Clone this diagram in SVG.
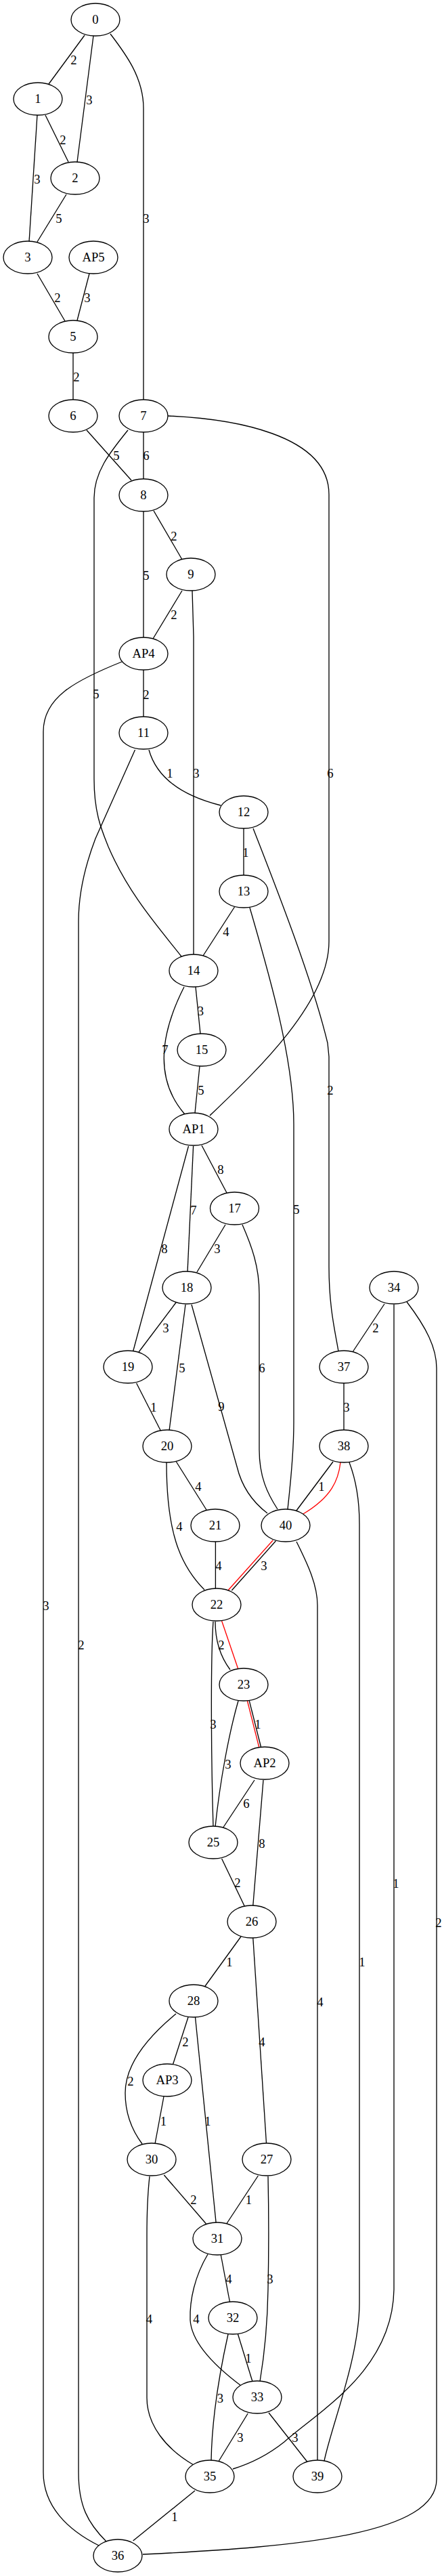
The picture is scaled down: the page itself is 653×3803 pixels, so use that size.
<svg xmlns="http://www.w3.org/2000/svg" width="653" height="3803" viewBox="0 0 653 3803">
<style>
.e{fill:none;stroke:#000;stroke-width:1.33}
.r{fill:none;stroke:#f00;stroke-width:1.33}
.n ellipse{fill:#fff;stroke:#000;stroke-width:1.33}
text{font-family:"Liberation Serif","Times New Roman",serif;font-size:18.67px;text-anchor:middle;fill:#000}
</style>
<rect width="653" height="3803" fill="#fff"/>
<g id="edges">
<path class="e" d="M125,52 L72,124"/>
<path class="e" d="M138,53 L114,239"/>
<path class="e" d="M163,50 C186,80 212,115 212,160 V590"/>
<path class="e" d="M67,170 L101,239"/>
<path class="e" d="M55,170 L43,357"/>
<path class="e" d="M98,287 L55,357"/>
<path class="e" d="M55,404 L96,474"/>
<path class="e" d="M132,404 L114,473"/>
<path class="e" d="M108,521 V590"/>
<path class="e" d="M128,635 L194,709"/>
<path class="e" d="M212,638 V707"/>
<path class="e" d="M189,635 C165,665 139,695 139,735 V1150 C139,1200 150,1225 160,1250 C190,1320 235,1370 268,1412"/>
<path class="e" d="M248,614 C340,618 486,640 486,730 V1390 C486,1480 380,1580 310,1647"/>
<path class="e" d="M227,754 L269,826"/>
<path class="e" d="M212,755 V941"/>
<path class="e" d="M269,872 L226,943"/>
<path class="e" d="M284,872 L286,940 V1410"/>
<path class="e" d="M212,989 V1058"/>
<path class="e" d="M180,977 C110,1005 64,1030 64,1080 V3650 C64,3700 100,3735 146,3758"/>
<path class="e" d="M220,1107 C232,1150 270,1175 326,1189"/>
<path class="e" d="M199.5,1107 L141,1238 C125,1280 116,1320 116,1360 V3650 C116,3700 130,3725 157,3752"/>
<path class="e" d="M360,1223 V1292"/>
<path class="e" d="M374,1223 C400,1290 460,1440 484,1540 L486,1560 V1870 C486,1930 495,1965 500,1995"/>
<path class="e" d="M346.5,1339 L300,1411"/>
<path class="e" d="M369,1340 C395,1430 434,1560 434,1660 V2100 C434,2150 428,2200 425,2228"/>
<path class="e" d="M289,1457 L296,1526"/>
<path class="e" d="M272,1457 C240,1520 225,1590 273,1645"/>
<path class="e" d="M295,1574 L288,1643"/>
<path class="e" d="M298,1691 L335,1761"/>
<path class="e" d="M285.6,1692 L277,1878"/>
<path class="e" d="M278.5,1692 L196.6,1995"/>
<path class="e" d="M333,1808 L291,1878"/>
<path class="e" d="M358,1808 C372,1840 383,1870 383,1910 V2140 C383,2180 395,2205 410,2228"/>
<path class="e" d="M260,1923 L205,1996"/>
<path class="e" d="M274,1926 L250,2112"/>
<path class="e" d="M283,1926 L350,2165 C356,2190 370,2215 395,2234"/>
<path class="e" d="M201.6,2042 L237.3,2112"/>
<path class="e" d="M260.4,2158 L305,2229"/>
<path class="e" d="M246,2159 C246,2260 265,2310 302,2347"/>
<path class="e" d="M318.4,2276 V2346"/>
<path class="e" d="M568,1925 L521.6,1995"/>
<path class="e" d="M582,1926 V3380 C580,3500 470,3560 420,3605 C395,3625 370,3637 344,3645"/>
<path class="e" d="M601,1922 C630,1960 645,1990 645,2020 V3660 C645,3740 450,3760 211,3771"/>
<path class="e" d="M508,2042 V2111"/>
<path class="e" d="M492,2158 L438,2230"/>
<path class="r" d="M503,2159 C500,2185 490,2210 448,2235"/>
<path class="e" d="M516,2159 C526,2185 531,2215 531,2250 V3400 C531,3480 490,3580 479,3633"/>
<path class="e" d="M407.4,2275 L342.3,2348"/>
<path class="r" d="M403.2,2274 L336.8,2348"/>
<path class="e" d="M438,2276 C455,2310 469,2340 469,2370 V3633"/>
<path class="e" d="M318,2394 C318,2420 325,2445 340,2465"/>
<path class="r" d="M327.6,2393 L351.5,2463"/>
<path class="e" d="M315,2394 C311,2450 312,2600 315,2697"/>
<path class="e" d="M368.3,2511 L385.5,2579"/>
<path class="r" d="M365.4,2511 L382.6,2579"/>
<path class="e" d="M352,2511 C338,2560 325,2630 318,2697"/>
<path class="e" d="M376,2628 L329.7,2698"/>
<path class="e" d="M389,2628 L373.8,2813"/>
<path class="e" d="M327.6,2744 L361.2,2814"/>
<path class="e" d="M356,2859 L302.4,2933"/>
<path class="e" d="M373.8,2861 L393.5,3164"/>
<path class="e" d="M278,2978 L255.4,3048"/>
<path class="e" d="M260,2973 C215,3010 185,3050 185,3090 C185,3120 195,3145 210,3165"/>
<path class="e" d="M288.5,2978 L319.2,3282"/>
<path class="e" d="M242,3095 L229,3165"/>
<path class="e" d="M242.3,3211 L304.5,3283"/>
<path class="e" d="M221,3213 C218,3240 217,3270 217,3300 V3540 C217,3580 245,3615 286,3639"/>
<path class="e" d="M381.4,3212 L334.7,3283"/>
<path class="e" d="M396,3213 C397,3260 397,3330 396,3380 C395,3440 390,3480 384,3516"/>
<path class="e" d="M326.3,3329 L339.4,3398"/>
<path class="e" d="M307,3328 C288,3360 280,3395 281,3425 C283,3460 320,3495 356,3522"/>
<path class="e" d="M351.5,3446 L373,3516"/>
<path class="e" d="M337,3446 C325,3500 313,3570 312,3633"/>
<path class="e" d="M366.2,3563 L323.4,3633"/>
<path class="e" d="M397,3562 L453.6,3634"/>
<path class="e" d="M288,3677 L196.6,3751"/>
</g>
<g id="edge-labels">
<text x="109" y="95">2</text>
<text x="132" y="154">3</text>
<text x="216" y="329">3</text>
<text x="93" y="213">2</text>
<text x="55" y="271">3</text>
<text x="87" y="329">5</text>
<text x="85" y="446">2</text>
<text x="129" y="446">3</text>
<text x="113" y="563">2</text>
<text x="172" y="679">5</text>
<text x="216" y="679">6</text>
<text x="257" y="798">2</text>
<text x="216" y="856">5</text>
<text x="257" y="914">2</text>
<text x="142" y="1031">5</text>
<text x="216" y="1032">2</text>
<text x="251" y="1148">1</text>
<text x="290" y="1148">3</text>
<text x="488" y="1148">6</text>
<text x="363" y="1265">1</text>
<text x="334" y="1382">4</text>
<text x="296.5" y="1499">3</text>
<text x="244" y="1556">7</text>
<text x="297" y="1616">5</text>
<text x="488" y="1616">2</text>
<text x="326" y="1733">8</text>
<text x="286" y="1793">7</text>
<text x="438" y="1792">5</text>
<text x="243" y="1850">8</text>
<text x="321" y="1850">3</text>
<text x="245" y="1967">3</text>
<text x="555" y="1967">2</text>
<text x="269" y="2026">5</text>
<text x="387" y="2026">6</text>
<text x="227" y="2084">1</text>
<text x="327" y="2083">9</text>
<text x="512" y="2084">3</text>
<text x="293" y="2201">4</text>
<text x="475" y="2201">1</text>
<text x="265" y="2260">4</text>
<text x="323" y="2318">4</text>
<text x="390" y="2318">3</text>
<text x="68" y="2377">3</text>
<text x="120" y="2435">2</text>
<text x="327" y="2435">2</text>
<text x="315" y="2552">3</text>
<text x="381" y="2552">1</text>
<text x="337" y="2611">3</text>
<text x="364" y="2669">6</text>
<text x="387" y="2728">8</text>
<text x="351" y="2786">2</text>
<text x="585" y="2787">1</text>
<text x="648" y="2845">2</text>
<text x="339" y="2903">1</text>
<text x="535" y="2903">1</text>
<text x="473" y="2962">4</text>
<text x="387" y="3021">4</text>
<text x="274" y="3021">2</text>
<text x="193" y="3079">2</text>
<text x="241.5" y="3138">1</text>
<text x="307" y="3138">1</text>
<text x="286" y="3254">2</text>
<text x="367.5" y="3254">1</text>
<text x="338" y="3371">4</text>
<text x="399" y="3371">3</text>
<text x="220.5" y="3430">4</text>
<text x="290" y="3430">4</text>
<text x="367" y="3488">1</text>
<text x="325.5" y="3547">3</text>
<text x="355" y="3605">3</text>
<text x="436" y="3605">3</text>
<text x="258" y="3722">1</text>
</g>
<g id="node-0" class="n"><ellipse cx="141" cy="29" rx="36" ry="24"/><text x="141" y="35">0</text></g>
<g id="node-1" class="n"><ellipse cx="56" cy="146" rx="36" ry="24"/><text x="56" y="152">1</text></g>
<g id="node-2" class="n"><ellipse cx="111" cy="263" rx="36" ry="24"/><text x="111" y="269">2</text></g>
<g id="node-3" class="n"><ellipse cx="41" cy="380" rx="36" ry="24"/><text x="41" y="386">3</text></g>
<g id="node-AP5" class="n"><ellipse cx="138" cy="380" rx="36" ry="24"/><text x="138" y="386">AP5</text></g>
<g id="node-5" class="n"><ellipse cx="108" cy="497" rx="36" ry="24"/><text x="108" y="503">5</text></g>
<g id="node-6" class="n"><ellipse cx="108" cy="614" rx="36" ry="24"/><text x="108" y="620">6</text></g>
<g id="node-7" class="n"><ellipse cx="212" cy="614" rx="36" ry="24"/><text x="212" y="620">7</text></g>
<g id="node-8" class="n"><ellipse cx="212" cy="731" rx="36" ry="24"/><text x="212" y="737">8</text></g>
<g id="node-9" class="n"><ellipse cx="282" cy="848" rx="36" ry="24"/><text x="282" y="854">9</text></g>
<g id="node-AP4" class="n"><ellipse cx="212" cy="965" rx="36" ry="24"/><text x="212" y="971">AP4</text></g>
<g id="node-11" class="n"><ellipse cx="212" cy="1082" rx="36" ry="24"/><text x="212" y="1088">11</text></g>
<g id="node-12" class="n"><ellipse cx="360" cy="1199" rx="36" ry="24"/><text x="360" y="1205">12</text></g>
<g id="node-13" class="n"><ellipse cx="360" cy="1316" rx="36" ry="24"/><text x="360" y="1322">13</text></g>
<g id="node-14" class="n"><ellipse cx="286" cy="1433" rx="36" ry="24"/><text x="286" y="1439">14</text></g>
<g id="node-15" class="n"><ellipse cx="298" cy="1550" rx="36" ry="24"/><text x="298" y="1556">15</text></g>
<g id="node-AP1" class="n"><ellipse cx="286" cy="1667" rx="36" ry="24"/><text x="286" y="1673">AP1</text></g>
<g id="node-17" class="n"><ellipse cx="346.5" cy="1784" rx="36" ry="24"/><text x="346.5" y="1790">17</text></g>
<g id="node-18" class="n"><ellipse cx="276" cy="1901" rx="36" ry="24"/><text x="276" y="1907">18</text></g>
<g id="node-34" class="n"><ellipse cx="582" cy="1901" rx="36" ry="24"/><text x="582" y="1907">34</text></g>
<g id="node-19" class="n"><ellipse cx="189" cy="2018" rx="36" ry="24"/><text x="189" y="2024">19</text></g>
<g id="node-37" class="n"><ellipse cx="508" cy="2018" rx="36" ry="24"/><text x="508" y="2024">37</text></g>
<g id="node-20" class="n"><ellipse cx="247" cy="2135" rx="36" ry="24"/><text x="247" y="2141">20</text></g>
<g id="node-38" class="n"><ellipse cx="508" cy="2135" rx="36" ry="24"/><text x="508" y="2141">38</text></g>
<g id="node-21" class="n"><ellipse cx="318" cy="2252" rx="36" ry="24"/><text x="318" y="2258">21</text></g>
<g id="node-40" class="n"><ellipse cx="422" cy="2252" rx="36" ry="24"/><text x="422" y="2258">40</text></g>
<g id="node-22" class="n"><ellipse cx="320" cy="2369" rx="36" ry="24"/><text x="320" y="2375">22</text></g>
<g id="node-23" class="n"><ellipse cx="360" cy="2487" rx="36" ry="24"/><text x="360" y="2493">23</text></g>
<g id="node-AP2" class="n"><ellipse cx="391" cy="2603" rx="36" ry="24"/><text x="391" y="2609">AP2</text></g>
<g id="node-25" class="n"><ellipse cx="315" cy="2720" rx="36" ry="24"/><text x="315" y="2726">25</text></g>
<g id="node-26" class="n"><ellipse cx="372" cy="2837" rx="36" ry="24"/><text x="372" y="2843">26</text></g>
<g id="node-28" class="n"><ellipse cx="286" cy="2954" rx="36" ry="24"/><text x="286" y="2960">28</text></g>
<g id="node-AP3" class="n"><ellipse cx="247" cy="3071" rx="36" ry="24"/><text x="247" y="3077">AP3</text></g>
<g id="node-30" class="n"><ellipse cx="224" cy="3188" rx="36" ry="24"/><text x="224" y="3194">30</text></g>
<g id="node-27" class="n"><ellipse cx="394" cy="3188" rx="36" ry="24"/><text x="394" y="3194">27</text></g>
<g id="node-31" class="n"><ellipse cx="321" cy="3305" rx="36" ry="24"/><text x="321" y="3311">31</text></g>
<g id="node-32" class="n"><ellipse cx="344" cy="3422" rx="36" ry="24"/><text x="344" y="3428">32</text></g>
<g id="node-33" class="n"><ellipse cx="380" cy="3539" rx="36" ry="24"/><text x="380" y="3545">33</text></g>
<g id="node-35" class="n"><ellipse cx="310" cy="3656" rx="36" ry="24"/><text x="310" y="3662">35</text></g>
<g id="node-39" class="n"><ellipse cx="469" cy="3656" rx="36" ry="24"/><text x="469" y="3662">39</text></g>
<g id="node-36" class="n"><ellipse cx="174" cy="3773" rx="36" ry="24"/><text x="174" y="3779">36</text></g>
</svg>
